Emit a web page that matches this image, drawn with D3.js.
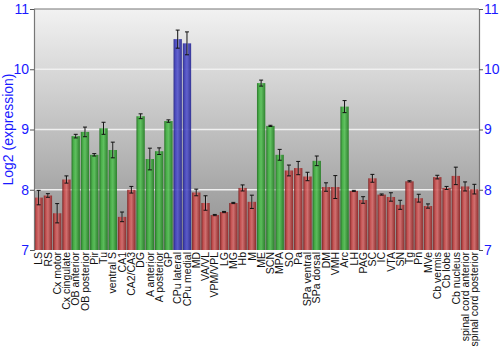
<!DOCTYPE html>
<html><head><meta charset="utf-8">
<script src="https://cdnjs.cloudflare.com/ajax/libs/d3/7.8.5/d3.min.js"></script>
<style>body{margin:0;background:#fff}svg{display:block}</style>
</head><body><svg id="c" width="500" height="350"></svg>
<script>
const categories = ["LS","RS","Cx motor","Cx cingulate","OB anterior","OB posterior","Pir","Tu","ventral S","CA1","CA2/CA3","DG","A anterior","A posterior","GP","CPu lateral","CPu medial","MD","VA/VL","VPM/VPL","LG","MG","Hb","M","ME","SCN","MPA","SO","Pa","SPa ventral","SPa dorsal","DM","VMH","Arc","LH","PAG","SC","IC","VTA","SN","Tg","Pn","MVe","Cb vermis","Cb lobe","Cb nucleus","spinal cord anterior","spinal cord posterior"];
const values = [7.87,7.905,7.61,8.17,8.89,8.96,8.58,9.02,8.66,7.55,8.0,9.22,8.51,8.64,9.14,10.5,10.43,7.955,7.78,7.58,7.63,7.78,8.03,7.8,9.77,9.06,8.58,8.32,8.36,8.22,8.48,8.045,8.045,9.38,7.98,7.83,8.19,7.92,7.88,7.75,8.14,7.86,7.73,8.21,8.03,8.23,8.055,8.01];
const errors = [0.12,0.03,0.16,0.06,0.03,0.08,0.02,0.1,0.13,0.08,0.055,0.04,0.18,0.055,0.02,0.15,0.19,0.055,0.12,0.01,0.01,0.01,0.05,0.11,0.05,0.01,0.09,0.09,0.11,0.07,0.08,0.07,0.19,0.1,0.01,0.055,0.065,0.01,0.07,0.075,0.01,0.065,0.035,0.03,0.025,0.145,0.075,0.08];
const groups = ["r","r","r","r","g","g","g","g","g","r","r","g","g","g","g","b","b","r","r","r","r","r","r","r","g","g","g","r","r","r","g","r","r","g","r","r","r","r","r","r","r","r","r","r","r","r","r","r"];
const yTicks = [7,8,9,10,11];
const yLabel = "Log2 (expression)";

const FONT = "Liberation Sans, Arial, sans-serif";
const svg = d3.select("#c");
const L = 34, R = 479, T = 9, B = 250;
const x = d3.scaleBand().domain(categories).range([L, R]).paddingInner(0.1).paddingOuter(0.05);
const y = d3.scaleLinear().domain([7, 11]).range([B, T]);

const defs = svg.append("defs");
const bg = defs.append("linearGradient").attr("id","bg").attr("x1",0).attr("y1",0).attr("x2",0).attr("y2",1);
bg.append("stop").attr("offset","0%").attr("stop-color","#f2f2f2");
bg.append("stop").attr("offset","100%").attr("stop-color","#8e8e8e");
const cols = {r:["#7a1c1c","#c94a4a","#d66a6a","#8c2222"], g:["#1b6e1b","#3fb03f","#55c055","#1f7a1f"], b:["#1f1f80","#4040c0","#5555cc","#242490"]};
Object.entries(cols).forEach(([k,c])=>{
  const g = defs.append("linearGradient").attr("id","bar"+k).attr("x1",0).attr("y1",0).attr("x2",1).attr("y2",0);
  g.append("stop").attr("offset","0%").attr("stop-color",c[0]);
  g.append("stop").attr("offset","25%").attr("stop-color",c[1]);
  g.append("stop").attr("offset","50%").attr("stop-color",c[2]);
  g.append("stop").attr("offset","100%").attr("stop-color",c[3]);
});

svg.append("rect").attr("x",L).attr("y",T).attr("width",R-L).attr("height",B-T).attr("fill","url(#bg)");
svg.append("g").selectAll("line").data(yTicks.filter(t=>t>7&&t<11)).join("line")
  .attr("x1",L).attr("x2",R).attr("y1",d=>y(d)).attr("y2",d=>y(d))
  .attr("stroke","#f0f0f0").attr("stroke-width",1.5);

svg.append("g").selectAll("rect").data(categories).join("rect")
  .attr("x",d=>x(d)).attr("width",x.bandwidth())
  .attr("y",(d,i)=>y(values[i])).attr("height",(d,i)=>B-y(values[i]))
  .attr("fill",(d,i)=>"url(#bar"+groups[i]+")").attr("opacity",0.9);

const eb = svg.append("g").attr("stroke","#111").attr("stroke-width",1);
categories.forEach((d,i)=>{
  const cx = x(d)+x.bandwidth()/2;
  const y1 = y(values[i]+errors[i]), y2 = y(values[i]-errors[i]);
  eb.append("line").attr("x1",cx+0.5).attr("x2",cx+0.5).attr("y1",y1).attr("y2",y2).attr("stroke","rgba(230,230,230,0.6)");
  eb.append("line").attr("x1",cx).attr("x2",cx).attr("y1",y1).attr("y2",y2);
  eb.append("line").attr("x1",cx-2).attr("x2",cx+2).attr("y1",y1).attr("y2",y1);
  eb.append("line").attr("x1",cx-2).attr("x2",cx+2).attr("y1",y2).attr("y2",y2);
});

svg.append("line").attr("x1",L).attr("x2",R).attr("y1",T).attr("y2",T).attr("stroke","#777").attr("stroke-width",1.2);
const yl = svg.append("g").attr("transform",`translate(${L},0)`).call(d3.axisLeft(y).tickValues(yTicks).tickSize(4).tickFormat(d3.format("d")));
const yr = svg.append("g").attr("transform",`translate(${R},0)`).call(d3.axisRight(y).tickValues(yTicks).tickSize(4).tickFormat(d3.format("d")));
[yl,yr].forEach(a=>{
  a.select(".domain").attr("stroke","#777").attr("stroke-width",1.2);
  a.selectAll(".tick line").attr("stroke","#555");
  a.selectAll("text").attr("fill","#1a1aff").attr("font-family",FONT).attr("font-size",14);
});
yl.selectAll("text").attr("x",-5);
yr.selectAll("text").attr("x",5);

const xa = svg.append("g").attr("transform",`translate(0,${B})`).call(d3.axisBottom(x).tickSize(0));
xa.select(".domain").remove();
xa.selectAll("text").attr("font-family",FONT).attr("font-size",10.5).attr("fill","#111")
  .attr("transform","rotate(-90)").attr("text-anchor","end").attr("x",-2).attr("y",0).attr("dy","0.35em");

svg.append("text").attr("transform",`translate(13,${(T+B)/2}) rotate(-90)`).attr("text-anchor","middle")
  .attr("font-family",FONT).attr("font-size",14).attr("fill","#1a1aff").text(yLabel);
</script></body></html>
